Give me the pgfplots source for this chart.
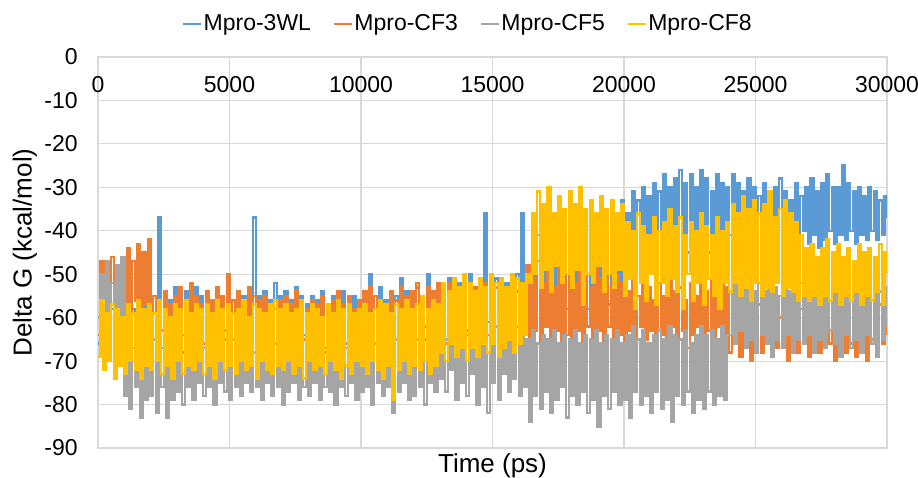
\documentclass[border=0pt]{standalone}
\usepackage{fontspec}
\setmainfont{Liberation Sans}
\usepackage{pgfplots}
\pgfplotsset{compat=1.18}
\definecolor{c3wl}{HTML}{5B9BD5}
\definecolor{ccf3}{HTML}{ED7D31}
\definecolor{ccf5}{HTML}{A5A5A5}
\definecolor{ccf8}{HTML}{FFC000}
\definecolor{gridgray}{HTML}{D9D9D9}
\pgfplotsset{
  shortline/.style={legend image code/.code={\draw[##1, line width=0.7pt] (0pt,0pt) -- (9pt,0pt);}},
}
\begin{document}
\begin{tikzpicture}
\begin{axis}[
  scale only axis, width=394.5pt, height=195.5pt,
  xmin=0, xmax=30000, ymin=-90, ymax=0,
  xtick={0,5000,...,30000}, ytick={-90,-80,...,0},
  scaled ticks=false,
  /pgf/number format/1000 sep={},
  /pgf/number format/assume math mode=true,
  font=\fontsize{11.5}{13}\selectfont,
  xticklabel pos=upper,
  xticklabel style={anchor=center, yshift=-14pt},
  yticklabel style={anchor=east, inner sep=0pt, xshift=-10pt},
  major tick length=0pt,
  grid=major, grid style={gridgray, line width=0.6pt},
  axis line style={gridgray, line width=0.6pt},
  xlabel={Time (ps)}, ylabel={Delta G (kcal/mol)},
  label style={font=\fontsize{13}{15}\selectfont},
  xlabel style={at={(axis description cs:0.5,0)}, anchor=center, yshift=-9pt},
  ylabel style={at={(axis description cs:-0.0925,0.5)}, anchor=center},
  shortline,
  legend columns=4,
  legend style={at={(axis description cs:0.469,1)}, anchor=center, yshift=16.5pt,
    draw=none, fill=none, font=\fontsize{11.5}{13}\selectfont,
    nodes={inner sep=1pt},
    /tikz/every even column/.append style={column sep=10pt}},
  every axis plot/.append style={const plot, line width=1.25pt},
]
\addplot[color=c3wl] coordinates {
(0,-66)(100,-57)(200,-68)(300,-56)(400,-63)(500,-58)(600,-69)(700,-55)(800,-64)(900,-57)
(1000,-67)(1100,-56)(1200,-62)(1300,-58)(1400,-68)(1500,-55)(1600,-65)(1700,-57)(1800,-63)(1900,-56)
(2000,-66)(2100,-55)(2200,-64)(2300,-37)(2400,-67)(2500,-54)(2600,-63)(2700,-56)(2800,-65)(2900,-53)
(3000,-62)(3100,-55)(3200,-68)(3300,-54)(3400,-64)(3500,-56)(3600,-66)(3700,-53)(3800,-63)(3900,-55)
(4000,-67)(4100,-54)(4200,-62)(4300,-57)(4400,-65)(4500,-53)(4600,-68)(4700,-55)(4800,-63)(4900,-51)
(5000,-66)(5100,-56)(5200,-64)(5300,-54)(5400,-67)(5500,-55)(5600,-62)(5700,-53)(5800,-65)(5900,-37)
(6000,-63)(6100,-55)(6200,-68)(6300,-54)(6400,-64)(6500,-56)(6600,-66)(6700,-52)(6800,-62)(6900,-55)
(7000,-67)(7100,-54)(7200,-65)(7300,-56)(7400,-63)(7500,-53)(7600,-68)(7700,-55)(7800,-64)(7900,-57)
(8000,-66)(8100,-55)(8200,-62)(8300,-56)(8400,-65)(8500,-54)(8600,-67)(8700,-57)(8800,-63)(8900,-55)
(9000,-68)(9100,-56)(9200,-64)(9300,-54)(9400,-66)(9500,-57)(9600,-62)(9700,-55)(9800,-65)(9900,-56)
(10000,-63)(10100,-54)(10200,-67)(10300,-50)(10400,-64)(10500,-55)(10600,-66)(10700,-53)(10800,-62)(10900,-56)
(11000,-65)(11100,-54)(11200,-68)(11300,-55)(11400,-63)(11500,-51)(11600,-66)(11700,-54)(11800,-64)(11900,-56)
(12000,-67)(12100,-53)(12200,-62)(12300,-55)(12400,-65)(12500,-50)(12600,-63)(12700,-54)(12800,-66)(12900,-52)
(13000,-62)(13100,-53)(13200,-65)(13300,-51)(13400,-63)(13500,-54)(13600,-66)(13700,-52)(13800,-61)(13900,-53)
(14000,-64)(14100,-50)(14200,-62)(14300,-54)(14400,-65)(14500,-52)(14600,-63)(14700,-36)(14800,-61)(14900,-53)
(15000,-64)(15100,-51)(15200,-62)(15300,-54)(15400,-65)(15500,-52)(15600,-60)(15700,-53)(15800,-63)(15900,-50)
(16000,-62)(16100,-36)(16200,-60)(16300,-52)(16400,-58)(16500,-44)(16600,-60)(16700,-41)(16800,-57)(16900,-43)
(17000,-59)(17100,-40)(17200,-56)(17300,-42)(17400,-60)(17500,-38)(17600,-57)(17700,-44)(17800,-58)(17900,-39)
(18000,-56)(18100,-41)(18200,-59)(18300,-37)(18400,-57)(18500,-42)(18600,-58)(18700,-40)(18800,-55)(18900,-38)
(19000,-58)(19100,-36)(19200,-56)(19300,-40)(19400,-57)(19500,-35)(19600,-55)(19700,-38)(19800,-58)(19900,-33)
(20000,-54)(20100,-36)(20200,-50)(20300,-31)(20400,-47)(20500,-33)(20600,-45)(20700,-30)(20800,-46)(20900,-32)
(21000,-44)(21100,-29)(21200,-46)(21300,-31)(21400,-43)(21500,-27)(21600,-45)(21700,-30)(21800,-44)(21900,-28)
(22000,-46)(22100,-26)(22200,-43)(22300,-29)(22400,-45)(22500,-27)(22600,-42)(22700,-30)(22800,-44)(22900,-26)
(23000,-43)(23100,-28)(23200,-45)(23300,-31)(23400,-42)(23500,-27)(23600,-44)(23700,-29)(23800,-43)(23900,-30)
(24000,-41)(24100,-27)(24200,-44)(24300,-29)(24400,-42)(24500,-31)(24600,-45)(24700,-28)(24800,-43)(24900,-30)
(25000,-42)(25100,-32)(25200,-44)(25300,-29)(25400,-41)(25500,-31)(25600,-43)(25700,-30)(25800,-45)(25900,-28)
(26000,-42)(26100,-31)(26200,-44)(26300,-33)(26400,-41)(26500,-29)(26600,-43)(26700,-32)(26800,-40)(26900,-30)
(27000,-43)(27100,-28)(27200,-41)(27300,-31)(27400,-44)(27500,-29)(27600,-42)(27700,-27)(27800,-40)(27900,-30)
(28000,-43)(28100,-30)(28200,-41)(28300,-25)(28400,-42)(28500,-29)(28600,-40)(28700,-31)(28800,-43)(28900,-30)
(29000,-41)(29100,-32)(29200,-42)(29300,-30)(29400,-40)(29500,-31)(29600,-42)(29700,-33)(29800,-41)(29900,-32)
(30000,-37)};
\addlegendentry{Mpro-3WL}
\addplot[color=ccf3] coordinates {
(0,-64)(100,-47)(200,-67)(300,-50)(400,-62)(500,-46)(600,-66)(700,-49)(800,-63)(900,-48)
(1000,-58)(1100,-44)(1200,-60)(1300,-47)(1400,-56)(1500,-43)(1600,-61)(1700,-45)(1800,-57)(1900,-42)
(2000,-64)(2100,-55)(2200,-67)(2300,-56)(2400,-63)(2500,-54)(2600,-66)(2700,-57)(2800,-62)(2900,-55)
(3000,-68)(3100,-53)(3200,-64)(3300,-56)(3400,-65)(3500,-52)(3600,-67)(3700,-55)(3800,-63)(3900,-57)
(4000,-66)(4100,-54)(4200,-64)(4300,-56)(4400,-68)(4500,-53)(4600,-62)(4700,-55)(4800,-65)(4900,-50)
(5000,-63)(5100,-56)(5200,-67)(5300,-54)(5400,-64)(5500,-57)(5600,-66)(5700,-53)(5800,-62)(5900,-55)
(6000,-67)(6100,-56)(6200,-63)(6300,-55)(6400,-65)(6500,-57)(6600,-68)(6700,-58)(6800,-64)(6900,-56)
(7000,-66)(7100,-55)(7200,-62)(7300,-57)(7400,-67)(7500,-54)(7600,-63)(7700,-56)(7800,-65)(7900,-58)
(8000,-64)(8100,-56)(8200,-66)(8300,-57)(8400,-63)(8500,-55)(8600,-68)(8700,-58)(8800,-62)(8900,-56)
(9000,-66)(9100,-54)(9200,-64)(9300,-57)(9400,-67)(9500,-55)(9600,-63)(9700,-58)(9800,-65)(9900,-56)
(10000,-62)(10100,-54)(10200,-66)(10300,-53)(10400,-64)(10500,-55)(10600,-67)(10700,-56)(10800,-63)(10900,-57)
(11000,-65)(11100,-54)(11200,-62)(11300,-56)(11400,-67)(11500,-53)(11600,-64)(11700,-55)(11800,-66)(11900,-54)
(12000,-63)(12100,-52)(12200,-65)(12300,-55)(12400,-62)(12500,-53)(12600,-66)(12700,-54)(12800,-64)(12900,-52)
(13000,-63)(13100,-54)(13200,-66)(13300,-52)(13400,-64)(13500,-55)(13600,-62)(13700,-53)(13800,-65)(13900,-52)
(14000,-63)(14100,-55)(14200,-66)(14300,-53)(14400,-62)(14500,-54)(14600,-65)(14700,-52)(14800,-64)(14900,-55)
(15000,-62)(15100,-53)(15200,-66)(15300,-51)(15400,-63)(15500,-54)(15600,-65)(15700,-52)(15800,-62)(15900,-54)
(16000,-64)(16100,-53)(16200,-62)(16300,-48)(16400,-66)(16500,-51)(16600,-63)(16700,-47)(16800,-67)(16900,-52)
(17000,-62)(17100,-49)(17200,-65)(17300,-53)(17400,-63)(17500,-46)(17600,-68)(17700,-51)(17800,-64)(17900,-48)
(18000,-66)(18100,-52)(18200,-63)(18300,-47)(18400,-67)(18500,-50)(18600,-62)(18700,-53)(18800,-65)(18900,-48)
(19000,-63)(19100,-51)(19200,-67)(19300,-49)(19400,-62)(19500,-53)(19600,-66)(19700,-50)(19800,-64)(19900,-52)
(20000,-67)(20100,-54)(20200,-63)(20300,-51)(20400,-66)(20500,-55)(20600,-62)(20700,-50)(20800,-65)(20900,-53)
(21000,-63)(21100,-56)(21200,-67)(21300,-52)(21400,-64)(21500,-55)(21600,-66)(21700,-51)(21800,-62)(21900,-54)
(22000,-65)(22100,-53)(22200,-63)(22300,-56)(22400,-67)(22500,-52)(22600,-64)(22700,-55)(22800,-62)(22900,-50)
(23000,-66)(23100,-54)(23200,-63)(23300,-51)(23400,-65)(23500,-55)(23600,-62)(23700,-52)(23800,-64)(23900,-53)
(24000,-68)(24100,-58)(24200,-66)(24300,-56)(24400,-69)(24500,-59)(24600,-65)(24700,-57)(24800,-70)(24900,-58)
(25000,-66)(25100,-57)(25200,-68)(25300,-59)(25400,-65)(25500,-56)(25600,-69)(25700,-58)(25800,-67)(25900,-60)
(26000,-66)(26100,-57)(26200,-70)(26300,-59)(26400,-65)(26500,-56)(26600,-68)(26700,-58)(26800,-66)(26900,-57)
(27000,-69)(27100,-59)(27200,-65)(27300,-58)(27400,-68)(27500,-56)(27600,-67)(27700,-60)(27800,-66)(27900,-57)
(28000,-70)(28100,-58)(28200,-65)(28300,-59)(28400,-68)(28500,-57)(28600,-66)(28700,-60)(28800,-69)(28900,-58)
(29000,-67)(29100,-56)(29200,-70)(29300,-59)(29400,-65)(29500,-58)(29600,-68)(29700,-57)(29800,-66)(29900,-59)
(30000,-64)};
\addlegendentry{Mpro-CF3}
\addplot[color=ccf5] coordinates {
(0,-60)(100,-50)(200,-62)(300,-47)(400,-59)(500,-52)(600,-61)(700,-48)(800,-63)(900,-46)
(1000,-78)(1100,-65)(1200,-81)(1300,-67)(1400,-76)(1500,-64)(1600,-83)(1700,-66)(1800,-79)(1900,-65)
(2000,-78)(2100,-65)(2200,-82)(2300,-67)(2400,-76)(2500,-64)(2600,-83)(2700,-66)(2800,-79)(2900,-65)
(3000,-77)(3100,-68)(3200,-80)(3300,-65)(3400,-76)(3500,-67)(3600,-79)(3700,-64)(3800,-75)(3900,-66)
(4000,-78)(4100,-65)(4200,-76)(4300,-68)(4400,-80)(4500,-66)(4600,-75)(4700,-64)(4800,-77)(4900,-67)
(5000,-79)(5100,-65)(5200,-76)(5300,-67)(5400,-78)(5500,-64)(5600,-75)(5700,-66)(5800,-77)(5900,-68)
(6000,-76)(6100,-65)(6200,-79)(6300,-67)(6400,-75)(6500,-64)(6600,-78)(6700,-66)(6800,-76)(6900,-65)
(7000,-80)(7100,-67)(7200,-77)(7300,-65)(7400,-75)(7500,-68)(7600,-79)(7700,-66)(7800,-76)(7900,-64)
(8000,-78)(8100,-67)(8200,-75)(8300,-65)(8400,-79)(8500,-66)(8600,-76)(8700,-68)(8800,-77)(8900,-65)
(9000,-80)(9100,-66)(9200,-76)(9300,-64)(9400,-78)(9500,-67)(9600,-75)(9700,-65)(9800,-79)(9900,-66)
(10000,-77)(10100,-68)(10200,-76)(10300,-65)(10400,-80)(10500,-66)(10600,-75)(10700,-67)(10800,-78)(10900,-64)
(11000,-76)(11100,-66)(11200,-82)(11300,-65)(11400,-77)(11500,-67)(11600,-75)(11700,-64)(11800,-79)(11900,-66)
(12000,-78)(12100,-65)(12200,-76)(12300,-67)(12400,-80)(12500,-66)(12600,-75)(12700,-64)(12800,-77)(12900,-65)
(13000,-74)(13100,-62)(13200,-77)(13300,-64)(13400,-72)(13500,-61)(13600,-79)(13700,-63)(13800,-75)(13900,-62)
(14000,-78)(14100,-64)(14200,-73)(14300,-62)(14400,-80)(14500,-63)(14600,-76)(14700,-61)(14800,-82)(14900,-63)
(15000,-75)(15100,-62)(15200,-79)(15300,-64)(15400,-73)(15500,-61)(15600,-77)(15700,-63)(15800,-74)(15900,-62)
(16000,-78)(16100,-64)(16200,-76)(16300,-65)(16400,-84)(16500,-63)(16600,-78)(16700,-66)(16800,-81)(16900,-64)
(17000,-77)(17100,-65)(17200,-82)(17300,-63)(17400,-79)(17500,-66)(17600,-76)(17700,-64)(17800,-83)(17900,-65)
(18000,-78)(18100,-63)(18200,-80)(18300,-66)(18400,-77)(18500,-64)(18600,-82)(18700,-65)(18800,-79)(18900,-63)
(19000,-85)(19100,-66)(19200,-78)(19300,-64)(19400,-81)(19500,-65)(19600,-77)(19700,-63)(19800,-80)(19900,-66)
(20000,-79)(20100,-64)(20200,-83)(20300,-62)(20400,-77)(20500,-65)(20600,-80)(20700,-63)(20800,-78)(20900,-66)
(21000,-82)(21100,-64)(21200,-77)(21300,-63)(21400,-81)(21500,-65)(21600,-79)(21700,-62)(21800,-84)(21900,-64)
(22000,-78)(22100,-65)(22200,-80)(22300,-63)(22400,-77)(22500,-66)(22600,-82)(22700,-64)(22800,-79)(22900,-62)
(23000,-81)(23100,-64)(23200,-77)(23300,-63)(23400,-80)(23500,-65)(23600,-78)(23700,-62)(23800,-79)(23900,-64)
(24000,-64)(24100,-52)(24200,-66)(24300,-51)(24400,-63)(24500,-53)(24600,-67)(24700,-52)(24800,-65)(24900,-54)
(25000,-68)(25100,-52)(25200,-64)(25300,-54)(25400,-66)(25500,-52)(25600,-69)(25700,-53)(25800,-65)(25900,-55)
(26000,-67)(26100,-52)(26200,-64)(26300,-54)(26400,-68)(26500,-53)(26600,-65)(26700,-52)(26800,-66)(26900,-55)
(27000,-64)(27100,-53)(27200,-68)(27300,-54)(27400,-65)(27500,-52)(27600,-67)(27700,-55)(27800,-63)(27900,-53)
(28000,-66)(28100,-54)(28200,-69)(28300,-52)(28400,-64)(28500,-55)(28600,-67)(28700,-53)(28800,-65)(28900,-54)
(29000,-68)(29100,-53)(29200,-64)(29300,-55)(29400,-66)(29500,-52)(29600,-69)(29700,-54)(29800,-65)(29900,-53)
(30000,-62)};
\addlegendentry{Mpro-CF5}
\addplot[color=ccf8] coordinates {
(0,-69)(100,-56)(200,-72)(300,-59)(400,-70)(500,-57)(600,-74)(700,-58)(800,-71)(900,-60)
(1000,-73)(1100,-57)(1200,-70)(1300,-59)(1400,-72)(1500,-56)(1600,-74)(1700,-58)(1800,-71)(1900,-57)
(2000,-72)(2100,-59)(2200,-70)(2300,-56)(2400,-73)(2500,-58)(2600,-71)(2700,-60)(2800,-74)(2900,-57)
(3000,-70)(3100,-58)(3200,-73)(3300,-56)(3400,-71)(3500,-59)(3600,-72)(3700,-57)(3800,-70)(3900,-58)
(4000,-73)(4100,-57)(4200,-71)(4300,-59)(4400,-74)(4500,-56)(4600,-70)(4700,-58)(4800,-72)(4900,-57)
(5000,-71)(5100,-59)(5200,-73)(5300,-58)(5400,-70)(5500,-56)(5600,-72)(5700,-60)(5800,-71)(5900,-57)
(6000,-74)(6100,-58)(6200,-70)(6300,-59)(6400,-72)(6500,-57)(6600,-73)(6700,-56)(6800,-71)(6900,-58)
(7000,-72)(7100,-57)(7200,-70)(7300,-59)(7400,-73)(7500,-58)(7600,-71)(7700,-56)(7800,-74)(7900,-59)
(8000,-70)(8100,-57)(8200,-72)(8300,-58)(8400,-71)(8500,-60)(8600,-73)(8700,-57)(8800,-70)(8900,-59)
(9000,-72)(9100,-56)(9200,-74)(9300,-58)(9400,-71)(9500,-57)(9600,-73)(9700,-59)(9800,-70)(9900,-58)
(10000,-71)(10100,-57)(10200,-73)(10300,-59)(10400,-70)(10500,-58)(10600,-72)(10700,-56)(10800,-74)(10900,-57)
(11000,-71)(11100,-59)(11200,-79)(11300,-57)(11400,-72)(11500,-58)(11600,-70)(11700,-56)(11800,-73)(11900,-58)
(12000,-71)(12100,-57)(12200,-72)(12300,-55)(12400,-70)(12500,-58)(12600,-73)(12700,-56)(12800,-71)(12900,-57)
(13000,-68)(13100,-52)(13200,-70)(13300,-54)(13400,-66)(13500,-51)(13600,-69)(13700,-53)(13800,-67)(13900,-50)
(14000,-70)(14100,-52)(14200,-67)(14300,-54)(14400,-69)(14500,-51)(14600,-66)(14700,-53)(14800,-68)(14900,-50)
(15000,-66)(15100,-52)(15200,-69)(15300,-51)(15400,-67)(15500,-53)(15600,-65)(15700,-50)(15800,-68)(15900,-51)
(16000,-66)(16100,-52)(16200,-64)(16300,-50)(16400,-52)(16500,-36)(16600,-50)(16700,-31)(16800,-53)(16900,-34)
(17000,-49)(17100,-30)(17200,-54)(17300,-36)(17400,-48)(17500,-32)(17600,-52)(17700,-35)(17800,-50)(17900,-31)
(18000,-53)(18100,-34)(18200,-49)(18300,-30)(18400,-57)(18500,-35)(18600,-50)(18700,-33)(18800,-52)(18900,-36)
(19000,-48)(19100,-32)(19200,-54)(19300,-35)(19400,-50)(19500,-33)(19600,-53)(19700,-36)(19800,-49)(19900,-34)
(20000,-55)(20100,-38)(20200,-51)(20300,-40)(20400,-58)(20500,-36)(20600,-52)(20700,-39)(20800,-56)(20900,-41)
(21000,-50)(21100,-37)(21200,-57)(21300,-40)(21400,-52)(21500,-38)(21600,-55)(21700,-35)(21800,-51)(21900,-39)
(22000,-54)(22100,-37)(22200,-58)(22300,-41)(22400,-50)(22500,-38)(22600,-56)(22700,-40)(22800,-52)(22900,-36)
(23000,-57)(23100,-39)(23200,-51)(23300,-41)(23400,-55)(23500,-37)(23600,-58)(23700,-40)(23800,-52)(23900,-38)
(24000,-54)(24100,-34)(24200,-52)(24300,-36)(24400,-55)(24500,-32)(24600,-53)(24700,-35)(24800,-56)(24900,-33)
(25000,-52)(25100,-36)(25200,-55)(25300,-34)(25400,-53)(25500,-31)(25600,-54)(25700,-37)(25800,-52)(25900,-35)
(26000,-55)(26100,-33)(26200,-53)(26300,-36)(26400,-54)(26500,-38)(26600,-56)(26700,-41)(26800,-55)(26900,-44)
(27000,-56)(27100,-43)(27200,-55)(27300,-46)(27400,-57)(27500,-44)(27600,-55)(27700,-42)(27800,-56)(27900,-45)
(28000,-54)(28100,-43)(28200,-57)(28300,-46)(28400,-55)(28500,-44)(28600,-56)(28700,-47)(28800,-54)(28900,-43)
(29000,-57)(29100,-45)(29200,-55)(29300,-44)(29400,-56)(29500,-46)(29600,-54)(29700,-43)(29800,-57)(29900,-45)
(30000,-50)};
\addlegendentry{Mpro-CF8}
\coordinate (sw) at (rel axis cs:0,0);
\coordinate (ne) at (rel axis cs:1,1);
\end{axis}
\pgfresetboundingbox
\path ([shift={(-49pt,-15pt)}]sw) rectangle ([shift={(15.5pt,28.5pt)}]ne);
\end{tikzpicture}
\end{document}
